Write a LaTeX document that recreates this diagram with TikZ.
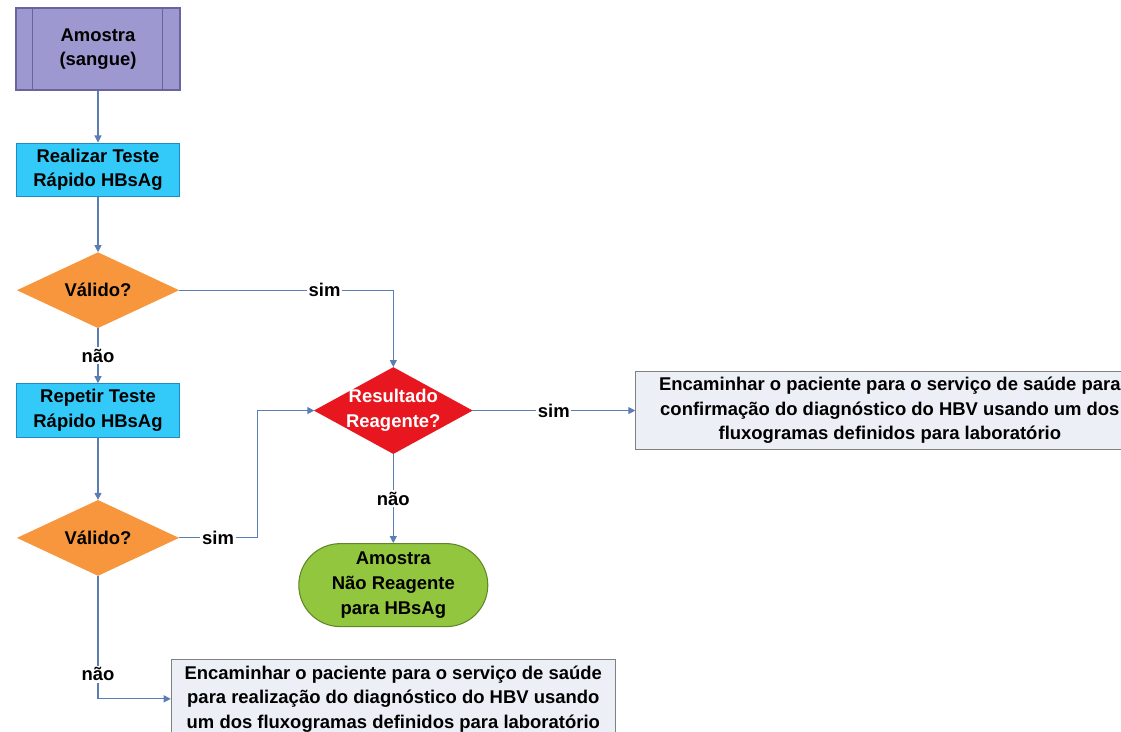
\documentclass[tikz,border=0pt]{standalone}
\usepackage{fontspec}
\setmainfont{Liberation Sans}
\usetikzlibrary{shapes.geometric,arrows.meta,positioning}
\definecolor{lilas}{RGB}{158,152,208}
\definecolor{lilasesc}{RGB}{105,100,160}
\definecolor{ciano}{RGB}{51,202,250}
\definecolor{cianoesc}{RGB}{30,140,195}
\definecolor{laranja}{RGB}{247,150,60}
\definecolor{vermelho}{RGB}{232,22,30}
\definecolor{verde}{RGB}{146,198,62}
\definecolor{verdeesc}{RGB}{95,135,40}
\definecolor{cinza}{RGB}{237,239,247}
\definecolor{linha}{RGB}{90,125,180}
\begin{document}
\begin{tikzpicture}[font=\bfseries\fontsize{10.5}{14}\selectfont, line width=0.6pt]
    \tikzstyle{box} = [rectangle, minimum width=3.27cm, minimum height=1.06cm, align=center, fill=ciano, draw=cianoesc]
    \tikzstyle{dec} = [diamond, minimum width=3.2cm, minimum height=1.5cm, inner sep=0pt, fill=laranja, draw=laranja]
    \tikzstyle{msg} = [rectangle, align=center, fill=cinza, draw=gray, minimum height=1.55cm]
    \tikzstyle{lbl} = [fill=white, inner sep=1pt]
    \tikzstyle{arrow} = [draw=linha, ->, >={Triangle[length=4pt,width=4pt]}]
        \useasboundingbox (0,0) rectangle (22.42,-14.64);
        \node (amo) [box, fill=lilas, draw=lilasesc, minimum width=3.28cm, minimum height=1.64cm] at (1.96,-0.98) {Amostra\\(sangue)};
        \node (rea) [box, below=1.04cm of amo] {Realizar Teste\\Rápido HBsAg};
        \node (val1) [dec, below=1.1cm of rea, label=center:Válido?] {};
        \node (rep) [box, below=1.1cm of val1] {Repetir Teste\\Rápido HBsAg};
        \node (val2) [dec, below=1.24cm of rep, label=center:Válido?] {};
        \node (res) [dec, fill=vermelho, draw=vermelho, minimum width=3.14cm, minimum height=1.72cm, right=2.68cm of rep, label={[white,align=center]center:Resultado\\Reagente?}] {};
        \node (conf) [msg, minimum width=10.16cm, right=3.26cm of res] {Encaminhar o paciente para o serviço de saúde para\\confirmação do diagnóstico do HBV usando um dos\\fluxogramas definidos para laboratório};
        \node (nr) [rectangle, rounded corners=0.83cm, minimum width=3.78cm, minimum height=1.66cm, align=center, fill=verde, draw=verdeesc, below=1.78cm of res] {Amostra\\Não Reagente\\para HBsAg};
        \node (diag) [msg, minimum width=8.88cm, below=0.64cm of nr] {Encaminhar o paciente para o serviço de saúde\\para realização do diagnóstico do HBV usando\\um dos fluxogramas definidos para laboratório};
        \draw [lilasesc] ([xshift=0.34cm]amo.north west) -- ([xshift=0.34cm]amo.south west);
        \draw [lilasesc] ([xshift=-0.36cm]amo.north east) -- ([xshift=-0.36cm]amo.south east);
        \draw [arrow] (amo) -- (rea);
        \draw [arrow] (rea) -- (val1);
        \draw [arrow] (val1) -- node[lbl]{não} (rep);
        \draw [arrow] (val1.east) -| node[lbl, pos=0.34]{sim} (res.north);
        \draw [arrow] (rep) -- (val2);
        \draw [arrow] (val2.east) -- node[lbl]{sim} ++(1.58,0) |- (res.west);
        \draw [arrow] (res) -- node[lbl]{sim} (conf);
        \draw [arrow] (res) -- node[lbl]{não} (nr);
        \draw [arrow] (val2.south) |- node[lbl, pos=0.4]{não} (diag.west);
    \end{tikzpicture}
\end{document}
